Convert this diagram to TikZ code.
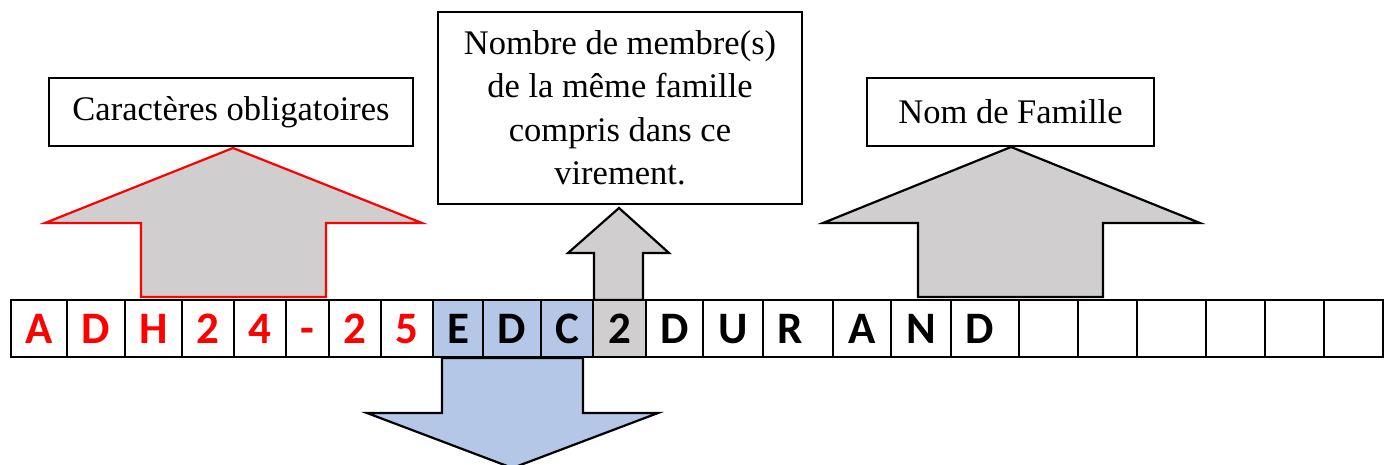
\documentclass[tikz,border=0pt]{standalone}
\usepackage{fontspec}
\setmainfont{Liberation Serif}
\newfontfamily\cellfont{Carlito}
\definecolor{gris}{HTML}{D0CECE}
\definecolor{bleu}{HTML}{B4C7E7}
\begin{document}
\begin{tikzpicture}[x=1pt, y=-1pt]
	\tikzstyle{Cell} = [rectangle, minimum height=57pt, inner sep=0pt, text centered, draw=black, line width=2.5pt, font=\cellfont\bfseries\fontsize{45}{54}\selectfont, text height=29pt, text depth=0pt]
	\tikzstyle{Red} = [Cell, text=red]
	\tikzstyle{Label} = [rectangle, inner sep=0pt, text centered, draw=black, line width=1.5pt, font=\fontsize{34.5}{43.5}\selectfont, align=center]
	\tikzstyle{BlockArrow} = [fill=gris, draw=black, line width=2.2pt, line join=miter]
	
	\useasboundingbox (0,0) rectangle (1384,464);
	
	% boxes
	\node (oblig) [Label, minimum width=364pt, minimum height=68pt] at (231,112) {Caract\`eres obligatoires};
	\node (membres) [Label, minimum width=364pt, minimum height=192pt] at (620,108) {Nombre de membre(s)\\de la m\^eme famille\\compris dans ce\\virement.};
	\node (nom) [Label, minimum width=287pt, minimum height=68pt] at (1010.5,112) {Nom de Famille};
	
	% arrows
	\draw [BlockArrow, draw=red] (141,297) -- (141,223) -- (45,223) -- (233,148) -- (422,223) -- (326,223) -- (326,297) -- cycle;
	\draw [BlockArrow] (594,300) -- (594,253) -- (568,253) -- (619,208) -- (669,253) -- (643,253) -- (643,300) -- cycle;
	\draw [BlockArrow] (918,297) -- (918,223) -- (823,223) -- (1011,147) -- (1200,223) -- (1103,223) -- (1103,297) -- cycle;
	\draw [BlockArrow, fill=bleu] (442,358) -- (442,413) -- (367,413) -- (512.5,468) -- (658,413) -- (583,413) -- (583,358) -- cycle;
	
	% cells
	\node (c1) [Red, minimum width=56pt] at (39,328.5) {A};
	\node (c2) [Red, minimum width=58pt] at (96,328.5) {D};
	\node (c3) [Red, minimum width=57pt] at (153.5,328.5) {H};
	\node (c4) [Red, minimum width=52pt] at (208,328.5) {2};
	\node (c5) [Red, minimum width=52pt] at (260,328.5) {4};
	\node (c6) [Red, minimum width=43pt] at (307.5,328.5) {-};
	\node (c7) [Red, minimum width=52pt] at (355,328.5) {2};
	\node (c8) [Red, minimum width=52pt] at (407,328.5) {5};
	\node (c9) [Cell, fill=bleu, minimum width=50pt] at (458,328.5) {E};
	\node (c10) [Cell, fill=bleu, minimum width=58pt] at (512,328.5) {D};
	\node (c11) [Cell, fill=bleu, minimum width=52pt] at (567,328.5) {C};
	\node (c12) [Cell, fill=gris, minimum width=53pt] at (619.5,328.5) {2};
	\node (c13) [Cell, minimum width=57pt] at (674.5,328.5) {D};
	\node (c14) [Cell, minimum width=60pt] at (733,328.5) {U};
	\node (c15) [Cell, minimum width=70pt] at (798,328.5) {\makebox[0pt]{\hspace*{-16pt}R}};
	\node (c16) [Cell, minimum width=58pt] at (862,328.5) {A};
	\node (c17) [Cell, minimum width=60pt] at (921,328.5) {N};
	\node (c18) [Cell, minimum width=68pt] at (985,328.5) {\makebox[0pt]{\hspace*{-10pt}D}};
	\node (c19) [Cell, minimum width=59pt] at (1048.5,328.5) {};
	\node (c20) [Cell, minimum width=59pt] at (1107.5,328.5) {};
	\node (c21) [Cell, minimum width=69pt] at (1171.5,328.5) {};
	\node (c22) [Cell, minimum width=59pt] at (1235.5,328.5) {};
	\node (c23) [Cell, minimum width=59pt] at (1294.5,328.5) {};
	\node (c24) [Cell, minimum width=59pt] at (1353.5,328.5) {};
\end{tikzpicture}
\end{document}
